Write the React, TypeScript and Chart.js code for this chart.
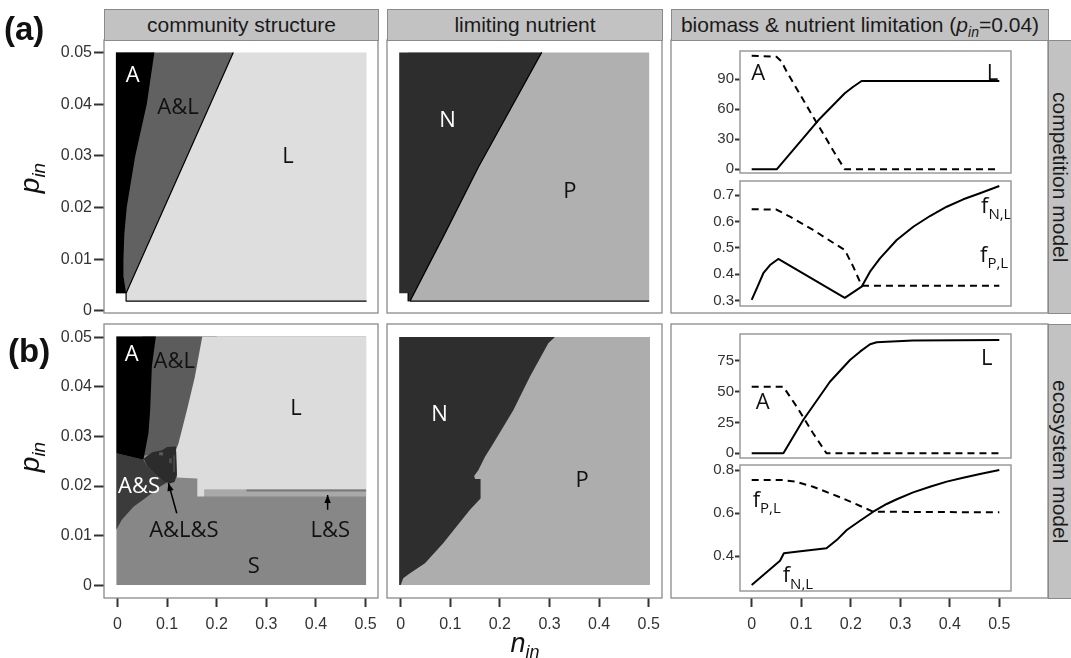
import React, { useEffect, useRef } from 'react';
import { Chart, registerables } from 'chart.js';

Chart.register(...registerables);

type P = [number, number];

// ---------- tick labels ----------
const nTicks = [0, 0.1, 0.2, 0.3, 0.4, 0.5];
const pTicks = [0, 0.01, 0.02, 0.03, 0.04, 0.05];
const bioTicksA = [0, 30, 60, 90];
const limTicksA = [0.3, 0.4, 0.5, 0.6, 0.7];
const bioTicksB = [0, 25, 50, 75];
const limTicksB = [0.4, 0.6, 0.8];

// ---------- (a) competition model: community structure [n_in, p_in] ----------
const compL: P[] = [[0.0175, 0.0019], [0.502, 0.0019], [0.502, 0.05], [0.0175, 0.05]];
const compAL: P[] = [[-0.003, 0.0034], [0.0175, 0.0034], [0.2335, 0.05], [-0.003, 0.05]];
const compA: P[] = [[-0.003, 0.0034], [0.0175, 0.0034], [0.0125, 0.0065], [0.0121, 0.0098], [0.014, 0.015], [0.0189, 0.0201], [0.0356, 0.0298], [0.0592, 0.04], [0.0745, 0.05], [-0.003, 0.05]];
const compEdge: P[] = [[0.2335, 0.05], [0.0175, 0.0034], [0.0175, 0.0019], [0.502, 0.0019]];

// ---------- (a) competition model: limiting nutrient ----------
const limP: P[] = [[0.015, 0.0019], [0.501, 0.0019], [0.501, 0.05], [0.015, 0.05]];
const limN: P[] = [[-0.003, 0.0034], [0.015, 0.0034], [0.015, 0.0019], [0.0188, 0.0019], [0.0893, 0.015], [0.1565, 0.0278], [0.2843, 0.05], [-0.003, 0.05]];
const limEdge: P[] = [[0.2843, 0.05], [0.1565, 0.0278], [0.0893, 0.015], [0.0188, 0.0019], [0.501, 0.0019]];
const limNotch: P[] = [[0.015, 0.0034], [0.015, 0.0019]];

// ---------- (b) ecosystem model: community structure ----------
const ecoS: P[] = [[-0.002, 0], [0.501, 0], [0.501, 0.0502], [-0.002, 0.0502]];
const ecoAL: P[] = [[0.05, 0.0502], [0.2, 0.0502], [0.2, 0.0262], [0.05, 0.0262]];
const ecoBand: P[] = [[0.175, 0.0179], [0.501, 0.0179], [0.501, 0.0193], [0.175, 0.0193]];
const ecoL: P[] = [[0.171, 0.0502], [0.501, 0.0502], [0.501, 0.0193], [0.175, 0.0193], [0.175, 0.0179], [0.161, 0.0179], [0.161, 0.0215], [0.12, 0.0217], [0.118, 0.0273], [0.123, 0.0286], [0.14, 0.0353], [0.156, 0.042]];
const ecoAS: P[] = [[-0.002, 0.0266], [0.0525, 0.0253], [0.06, 0.024], [0.085, 0.0215], [0.103, 0.0209], [0.0863, 0.0199], [0.0594, 0.0178], [0.0324, 0.0158], [0.0089, 0.0132], [-0.002, 0.0112]];
const ecoA: P[] = [[-0.002, 0.0502], [0.0775, 0.0502], [0.0694, 0.0441], [0.066, 0.0353], [0.0626, 0.0307], [0.0525, 0.0253], [-0.002, 0.0266]];
const ecoALS: P[] = [[0.053, 0.0255], [0.07, 0.0268], [0.09, 0.0272], [0.1, 0.0279], [0.118, 0.028], [0.12, 0.0222], [0.115, 0.0208], [0.105, 0.0205], [0.09, 0.0212], [0.075, 0.0225], [0.06, 0.024]];
const ecoSpeck1: P[] = [[0.084, 0.0262], [0.092, 0.0262], [0.092, 0.0268], [0.084, 0.0268]];
const ecoSpeck2: P[] = [[0.104, 0.0246], [0.11, 0.0246], [0.11, 0.0256], [0.104, 0.0256]];
const ecoSpeck3: P[] = [[0.112, 0.0228], [0.116, 0.0228], [0.116, 0.0262], [0.112, 0.0262]];
const ecoBandTop: P[] = [[0.26, 0.0191], [0.501, 0.0191]];
const arrowALS: P[] = [[0.1196, 0.0145], [0.1027, 0.0206]];
const arrowLS: P[] = [[0.4235, 0.0152], [0.4235, 0.0182]];

// ---------- (b) ecosystem model: limiting nutrient ----------
const ecoP: P[] = [[-0.003, 0], [0.5026, 0], [0.5026, 0.0501], [-0.003, 0.0501]];
const ecoN: P[] = [[-0.003, 0.0501], [0.311, 0.0501], [0.2976, 0.0488], [0.2607, 0.0421], [0.227, 0.0353], [0.1867, 0.0286], [0.17, 0.0259], [0.1565, 0.0232], [0.148, 0.022], [0.15, 0.0214], [0.161, 0.0214], [0.161, 0.0175], [0.1397, 0.0152], [0.086, 0.0085], [0.049, 0.0044], [0.0187, 0.0024], [0.005, 0.0014], [0, 0], [-0.003, 0]];

// ---------- biomass & nutrient limitation, competition model ----------
const bioA_nA = [0, 0.05, 0.06, 0.0707, 0.124, 0.172, 0.188, 0.5];
const bioA_A = [113.6, 112.6, 108, 97.6, 52.6, 12.6, 0, 0];
const bioA_nL = [0, 0.0505, 0.1345, 0.188, 0.205, 0.222, 0.5];
const bioA_L = [0, 0, 49, 76, 82.5, 88.3, 88.3];
const limA_nP = [0, 0.05, 0.0773, 0.124, 0.158, 0.188, 0.205, 0.222, 0.5];
const limA_P = [0.646, 0.645, 0.618, 0.568, 0.527, 0.492, 0.429, 0.357, 0.357];
const limA_nN = [0, 0.0134, 0.0235, 0.037, 0.0537, 0.188, 0.222, 0.2389, 0.259, 0.2928, 0.3263, 0.36, 0.3938, 0.4273, 0.461, 0.5];
const limA_N = [0.303, 0.36, 0.404, 0.435, 0.458, 0.311, 0.353, 0.41, 0.46, 0.5297, 0.58, 0.6205, 0.6557, 0.6837, 0.7064, 0.734];

// ---------- biomass & nutrient limitation, ecosystem model ----------
const bioB_nA = [0, 0.0638, 0.0909, 0.124, 0.151, 0.5];
const bioB_A = [53.9, 53.9, 37.7, 16.2, 0, 0];
const bioB_nL = [0, 0.064, 0.104, 0.158, 0.1985, 0.2187, 0.239, 0.2524, 0.2726, 0.326, 0.5];
const bioB_L = [0, 0, 26.9, 57.9, 75.5, 82.2, 88.2, 89.8, 90.3, 91.2, 91.7];
const limB_nP = [0, 0.064, 0.09, 0.124, 0.16, 0.192, 0.2455, 0.5];
const limB_P = [0.7535, 0.753, 0.745, 0.722, 0.69, 0.66, 0.606, 0.603];
const limB_nN = [0, 0.0572, 0.065, 0.09, 0.151, 0.1716, 0.192, 0.2187, 0.2455, 0.2726, 0.293, 0.326, 0.36, 0.3938, 0.427, 0.461, 0.5];
const limB_N = [0.265, 0.378, 0.4125, 0.42, 0.436, 0.474, 0.521, 0.564, 0.606, 0.642, 0.664, 0.696, 0.722, 0.746, 0.764, 0.781, 0.8];

// ---------- in-panel labels ----------
type Lab = { t: string; sub?: string; x: number; y: number; c?: string };
const labCompA: Lab[] = [{ t: 'A', x: 0.0306, y: 0.0457, c: '#fff' }, { t: 'A&L', x: 0.122, y: 0.0397 }, { t: 'L', x: 0.3436, y: 0.0301 }];
const labLimA: Lab[] = [{ t: 'N', x: 0.0944, y: 0.037, c: '#fff' }, { t: 'P', x: 0.341, y: 0.0233 }];
const labCompB: Lab[] = [
  { t: 'A', x: 0.029, y: 0.0468, c: '#fff' }, { t: 'A&L', x: 0.1145, y: 0.0454 }, { t: 'L', x: 0.36, y: 0.036 },
  { t: 'A&S', x: 0.0435, y: 0.0202, c: '#fff' }, { t: 'A&L&S', x: 0.134, y: 0.01135 }, { t: 'L&S', x: 0.4288, y: 0.01135 },
  { t: 'S', x: 0.2745, y: 0.0041 },
];
const labLimB: Lab[] = [{ t: 'N', x: 0.0782, y: 0.0347, c: '#fff' }, { t: 'P', x: 0.366, y: 0.0214 }];
const labBioA: Lab[] = [{ t: 'A', x: 0.0134, y: 97.1 }, { t: 'L', x: 0.486, y: 97.1 }];
const labFA: Lab[] = [{ t: 'f', sub: 'N,L', x: 0.463, y: 0.662 }, { t: 'f', sub: 'P,L', x: 0.461, y: 0.477 }];
const labBioB: Lab[] = [{ t: 'L', x: 0.4745, y: 77.5 }, { t: 'A', x: 0.0222, y: 42 }];
const labFB: Lab[] = [{ t: 'f', sub: 'P,L', x: 0.002, y: 0.668 }, { t: 'f', sub: 'N,L', x: 0.0626, y: 0.315 }];

// ---------- helpers ----------
const FONT = "'Liberation Sans', Arial, Helvetica, sans-serif";
const ANNOT = "'Open Sans', 'Liberation Sans', sans-serif";
const CW = 1071;
const CH = 658;
const fmt = (v: any) => String(Math.round(Number(v) * 10000) / 10000);
const toXY = (a: P[]) => a.map(([x, y]) => ({ x, y }));
const zipXY = (xs: number[], ys: number[]) => xs.map((x, i) => ({ x, y: ys[i] }));

function area(data: P[], color: string) {
  return { type: 'line', data: toXY(data), fill: 'shape', backgroundColor: color, borderColor: 'rgba(0,0,0,0)', borderWidth: 0, pointRadius: 0, tension: 0 };
}
function path(data: any[], color: string, width: number, dash: number[] = [], arrow = false) {
  return { type: 'line', data, fill: false, borderColor: color, backgroundColor: color, borderWidth: width, borderDash: dash, pointRadius: 0, tension: 0, arrowHead: arrow, borderCapStyle: 'butt', borderJoinStyle: 'round' };
}

function decor(frame: { color: string; width: number }, labels: Lab[], size: number) {
  return {
    id: 'decor',
    afterDatasetsDraw(chart: any) {
      const { ctx, chartArea: a } = chart;
      const xs = chart.scales.x;
      const ys = chart.scales.y;
      ctx.save();
      chart.data.datasets.forEach((ds: any, i: number) => {
        if (!ds.arrowHead) return;
        const pts = chart.getDatasetMeta(i).data;
        const p1 = pts[pts.length - 2];
        const p2 = pts[pts.length - 1];
        const ang = Math.atan2(p2.y - p1.y, p2.x - p1.x);
        const L = 8;
        const w = 3.2;
        const bx = p2.x - L * Math.cos(ang);
        const by = p2.y - L * Math.sin(ang);
        ctx.fillStyle = ds.borderColor;
        ctx.beginPath();
        ctx.moveTo(p2.x, p2.y);
        ctx.lineTo(bx + w * Math.sin(ang), by - w * Math.cos(ang));
        ctx.lineTo(bx - w * Math.sin(ang), by + w * Math.cos(ang));
        ctx.closePath();
        ctx.fill();
      });
      for (const it of labels) {
        const px = xs.getPixelForValue(it.x);
        const py = ys.getPixelForValue(it.y);
        ctx.fillStyle = it.c || '#111';
        ctx.textBaseline = 'alphabetic';
        ctx.font = `${size}px ${ANNOT}`;
        if (it.sub) {
          ctx.textAlign = 'left';
          const base = py + size * 0.37;
          ctx.fillText(it.t, px, base);
          const w = ctx.measureText(it.t).width;
          ctx.font = `${Math.round(size * 0.7)}px ${ANNOT}`;
          ctx.fillText(it.sub, px + w, base + size * 0.28);
        } else {
          ctx.textAlign = 'center';
          ctx.fillText(it.t, px, py + size * 0.357);
        }
      }
      ctx.strokeStyle = frame.color;
      ctx.lineWidth = frame.width;
      ctx.strokeRect(a.left, a.top, a.right - a.left, a.bottom - a.top);
      ctx.restore();
    },
  };
}

type Spec = {
  box: [number, number, number, number];
  xr: [number, number];
  yr: [number, number];
  xt?: number[];
  yt?: number[];
  yW?: number;
  yTL?: number;
  yFS?: number;
  yPad?: number;
  frame: { color: string; width: number };
  datasets: any[];
  labels: Lab[];
  labSize?: number;
};

function build(s: Spec): any {
  const [L, T, R, B] = s.box;
  const yW = s.yt ? s.yW || 50 : 0;
  const xH = s.xt ? 45 : 0;
  const tickGrid = (len: number) => ({ display: true, drawOnChartArea: false, drawTicks: true, tickLength: len, tickColor: '#333', tickWidth: 2, color: 'rgba(0,0,0,0)' });
  return {
    type: 'line',
    data: { datasets: s.datasets },
    options: {
      responsive: false,
      animation: false,
      events: [],
      layout: { padding: { left: L - yW, top: T, right: CW - R, bottom: CH - B - xH } },
      plugins: { legend: { display: false }, tooltip: { enabled: false }, title: { display: false } },
      scales: {
        x: {
          type: 'linear', min: s.xr[0], max: s.xr[1], display: !!s.xt,
          afterBuildTicks: (sc: any) => { if (s.xt) sc.ticks = s.xt.map((v) => ({ value: v })); },
          afterFit: (sc: any) => { if (s.xt) sc.height = xH; },
          grid: tickGrid(9), border: { display: false },
          ticks: { font: { family: FONT, size: 16 }, color: '#333', padding: 8, maxRotation: 0, autoSkip: false, callback: fmt },
        },
        y: {
          type: 'linear', min: s.yr[0], max: s.yr[1], display: !!s.yt,
          afterBuildTicks: (sc: any) => { if (s.yt) sc.ticks = s.yt.map((v) => ({ value: v })); },
          afterFit: (sc: any) => { if (s.yt) sc.width = yW; },
          grid: tickGrid(s.yTL || 10), border: { display: false },
          ticks: { font: { family: FONT, size: s.yFS || 16 }, color: '#333', padding: s.yPad ?? 2, autoSkip: false, callback: fmt },
        },
      },
    },
    plugins: [decor(s.frame, s.labels, s.labSize || 22)],
  };
}

const OUTER = { color: '#8a8a8a', width: 1.3 };
const INNER = { color: '#9a9a9a', width: 1.5 };
const DASH = [7, 5];

function specs(): Spec[] {
  return [
    { box: [671, 40, 1048, 313], xr: [-0.163, 0.598], yr: [0, 1], frame: OUTER, datasets: [], labels: [] },
    { box: [671, 324, 1048, 598], xr: [-0.163, 0.5983], yr: [0, 1], xt: nTicks, frame: OUTER, datasets: [], labels: [] },
    {
      box: [104, 40, 378, 313], xr: [-0.027, 0.525], yr: [-0.0004, 0.0524], yt: pTicks, yW: 50, yTL: 10, frame: OUTER,
      datasets: [path(toXY(compEdge), '#000', 1.2), area(compA, '#000000'), area(compAL, '#616161'), area(compL, '#dedede')],
      labels: labCompA,
    },
    {
      box: [387, 40, 662, 313], xr: [-0.0276, 0.5268], yr: [-0.0004, 0.0524], frame: OUTER,
      datasets: [path(toXY(limEdge), '#000', 1.2), path(toXY(limNotch), '#000', 1.2), area(limN, '#2d2d2d'), area(limP, '#b0b0b0')],
      labels: labLimA,
    },
    {
      box: [104, 324, 378, 598], xr: [-0.027, 0.525], yr: [-0.0026, 0.0527], yt: pTicks, xt: nTicks, yW: 50, yTL: 10, frame: OUTER,
      datasets: [
        path(toXY(arrowALS), '#000', 1.5, [], true), path(toXY(arrowLS), '#000', 1.5, [], true),
        path(toXY(ecoBandTop), '#7a7a7a', 2),
        area(ecoSpeck1, '#5c5c5c'), area(ecoSpeck2, '#4a4a4a'), area(ecoSpeck3, '#444444'),
        area(ecoALS, '#2c2c2c'), area(ecoA, '#000000'), area(ecoAS, '#3b3b3b'), area(ecoL, '#dcdcdc'),
        area(ecoBand, '#a9a9a9'), area(ecoAL, '#5c5c5c'), area(ecoS, '#878787'),
      ],
      labels: labCompB,
    },
    {
      box: [387, 324, 662, 598], xr: [-0.0276, 0.5268], yr: [-0.0026, 0.0527], xt: nTicks, frame: OUTER,
      datasets: [area(ecoN, '#2e2e2e'), area(ecoP, '#adadad')],
      labels: labLimB,
    },
    {
      box: [740, 51, 1011, 173], xr: [-0.0236, 0.5236], yr: [-3.7, 118.3], yt: bioTicksA, yW: 40, yTL: 5, yFS: 15, yPad: 1, frame: INNER,
      datasets: [path(zipXY(bioA_nL, bioA_L), '#000', 2), path(zipXY(bioA_nA, bioA_A), '#000', 2, DASH)],
      labels: labBioA,
    },
    {
      box: [740, 181, 1011, 306], xr: [-0.0236, 0.5236], yr: [0.28, 0.753], yt: limTicksA, yW: 40, yTL: 5, yFS: 15, yPad: 1, frame: INNER,
      datasets: [path(zipXY(limA_nN, limA_N), '#000', 2), path(zipXY(limA_nP, limA_P), '#000', 2, DASH)],
      labels: labFA,
    },
    {
      box: [740, 334, 1011, 458], xr: [-0.0236, 0.5236], yr: [-3.8, 96.5], yt: bioTicksB, yW: 40, yTL: 5, yFS: 15, yPad: 1, frame: INNER,
      datasets: [path(zipXY(bioB_nL, bioB_L), '#000', 2), path(zipXY(bioB_nA, bioB_A), '#000', 2, DASH)],
      labels: labBioB,
    },
    {
      box: [740, 465, 1011, 591], xr: [-0.0236, 0.5236], yr: [0.2372, 0.8233], yt: limTicksB, yW: 40, yTL: 5, yFS: 15, yPad: 1, frame: INNER,
      datasets: [path(zipXY(limB_nN, limB_N), '#000', 2), path(zipXY(limB_nP, limB_P), '#000', 2, DASH)],
      labels: labFB,
    },
  ];
}

const strip: React.CSSProperties = {
  position: 'absolute', background: '#c2c2c2', border: '1px solid #8a8a8a', boxSizing: 'border-box',
  display: 'flex', alignItems: 'center', justifyContent: 'center', fontSize: 21, color: '#1a1a1a',
  fontFamily: FONT, whiteSpace: 'nowrap', overflow: 'hidden',
};

export default function App() {
  const refs = useRef<(HTMLCanvasElement | null)[]>([]);
  const list = specs();
  useEffect(() => {
    const charts: Chart[] = [];
    specs().forEach((s, i) => {
      const cv = refs.current[i];
      if (cv) charts.push(new Chart(cv, build(s)));
    });
    return () => charts.forEach((c) => c.destroy());
  }, []);

  const pLabel = (top: number) => (
    <div style={{ position: 'absolute', left: 30, top, transform: 'translate(-50%, -50%) rotate(-90deg)', whiteSpace: 'nowrap', fontFamily: FONT, color: '#111', lineHeight: 1 }}>
      <i style={{ fontSize: 28 }}>p</i><i style={{ fontSize: 19, position: 'relative', top: 6 }}>in</i>
    </div>
  );

  return (
    <div style={{ position: 'absolute', left: 0, top: 0, width: CW, height: CH, background: '#fff', overflow: 'hidden', fontFamily: FONT }}>
      {list.map((_, i) => (
        <canvas key={i} ref={(el) => { refs.current[i] = el; }} width={CW} height={CH}
          style={{ position: 'absolute', left: 0, top: 0, width: CW, height: CH, display: 'block', pointerEvents: 'none' }} />
      ))}
      <div style={{ ...strip, left: 104, top: 9, width: 275, height: 32 }}>community structure</div>
      <div style={{ ...strip, left: 387, top: 9, width: 276, height: 32 }}>limiting nutrient</div>
      <div style={{ ...strip, left: 671, top: 9, width: 378, height: 32 }}>
        <span>biomass &amp; nutrient limitation (<i>p</i><i style={{ fontSize: 14, position: 'relative', top: 5 }}>in</i>=0.04)</span>
      </div>
      <div style={{ ...strip, left: 1048, top: 40, width: 24, height: 274 }}>
        <span style={{ writingMode: 'vertical-rl' }}>competition model</span>
      </div>
      <div style={{ ...strip, left: 1048, top: 324, width: 24, height: 275 }}>
        <span style={{ writingMode: 'vertical-rl' }}>ecosystem model</span>
      </div>
      <div style={{ position: 'absolute', left: 4, top: 12, fontSize: 33, fontWeight: 'bold', lineHeight: 1, color: '#111' }}>(a)</div>
      <div style={{ position: 'absolute', left: 8, top: 334, fontSize: 33, fontWeight: 'bold', lineHeight: 1, color: '#111' }}>(b)</div>
      {pLabel(178)}
      {pLabel(457)}
      <div style={{ position: 'absolute', left: 525, top: 643, transform: 'translate(-50%, -50%)', whiteSpace: 'nowrap', color: '#111', lineHeight: 1 }}>
        <i style={{ fontSize: 27 }}>n</i><i style={{ fontSize: 18, position: 'relative', top: 6 }}>in</i>
      </div>
    </div>
  );
}
